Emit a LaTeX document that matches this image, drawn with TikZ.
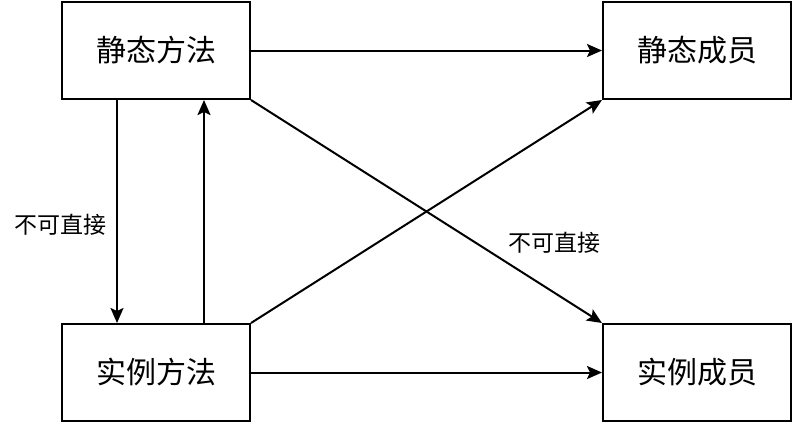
\documentclass[tikz,border=0pt]{standalone}
\usepackage{fontspec}
\newfontfamily\cjk{Noto Sans CJK SC}
\usetikzlibrary{positioning,arrows.meta}

\tikzstyle{block} = [rectangle, draw, line width=2pt, minimum width=188pt, minimum height=97pt, text centered, font=\cjk\fontsize{30}{34}\selectfont]
\tikzstyle{arrow} = [draw, line width=2pt, -{Stealth[length=15pt, width=13pt, inset=3pt]}]
\tikzstyle{note} = [font=\cjk\fontsize{23}{26}\selectfont]

\begin{document}
\begin{tikzpicture}[x=1pt, y=-1pt, node distance=351pt]
    \useasboundingbox (0,0) rectangle (794,424);
    \node[block] (smethod) at (156,50.5) {静态方法};
    \node[block, right=of smethod] (smember) {静态成员};
    \node[block, below=223pt of smethod] (imethod) {实例方法};
    \node[block, right=of imethod] (imember) {实例成员};

    % lines
    \draw [arrow] (smethod) to (smember);
    \draw [arrow] (imethod) to (imember);
    \draw [arrow] ([xshift=-39pt]smethod.south) to node[note, pos=0.56, left=6pt] {不可直接} ([xshift=-39pt]imethod.north);
    \draw [arrow] ([xshift=48pt]imethod.north) to ([xshift=48pt]smethod.south);
    \draw [arrow] (smethod.south east) to node[note, pos=0.864, yshift=50pt] {不可直接} (imember.north west);
    \draw [arrow] (imethod.north east) to (smember.south west);
\end{tikzpicture}
\end{document}
